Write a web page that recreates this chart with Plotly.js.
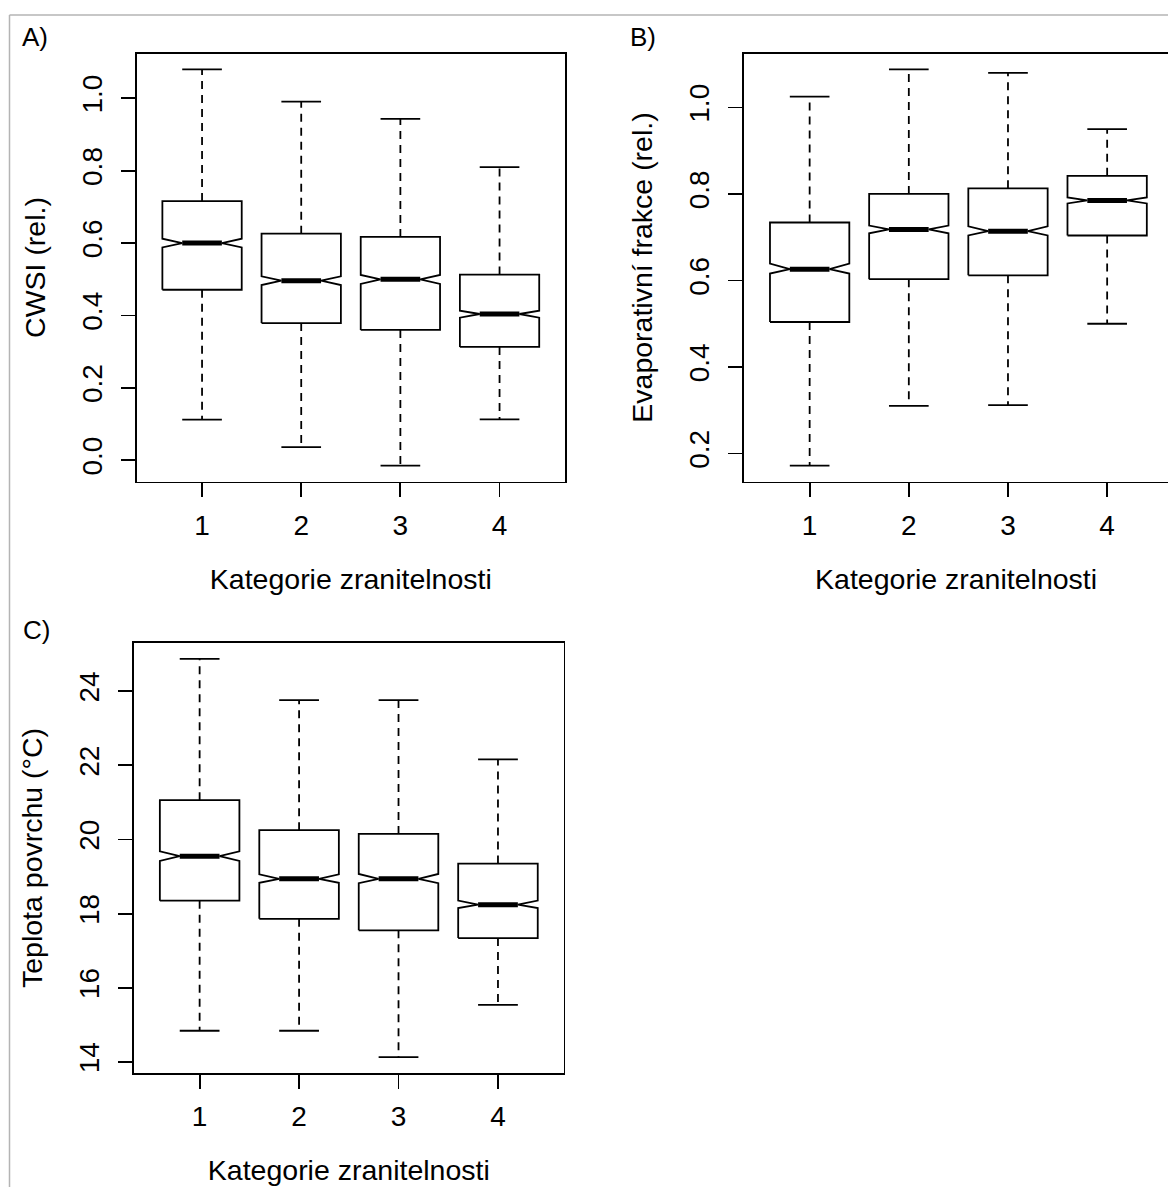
<!DOCTYPE html>
<html>
<head>
<meta charset="utf-8">
<script src="https://cdn.plot.ly/plotly-3.0.1.min.js"></script>
<style>html,body{margin:0;padding:0;background:#fff;}#chart{width:1168px;height:1187px;}</style>
</head>
<body>
<div id="chart"></div>
<script>
// ---------- data ----------
const categories = [1, 2, 3, 4];
const xTickLabels = ['1', '2', '3', '4'];
const xTitle = 'Kategorie zranitelnosti';

// A) CWSI
const cwsiLower   = [0.112, 0.036, -0.015, 0.113];
const cwsiQ1      = [0.471, 0.379, 0.360, 0.313];
const cwsiNotchLo = [0.588, 0.484, 0.487, 0.394];
const cwsiMedian  = [0.600, 0.496, 0.500, 0.404];
const cwsiNotchHi = [0.612, 0.508, 0.512, 0.413];
const cwsiQ3      = [0.716, 0.626, 0.617, 0.513];
const cwsiUpper   = [1.080, 0.991, 0.943, 0.810];

// B) Evaporativní frakce
const efLower   = [0.172, 0.310, 0.312, 0.500];
const efQ1      = [0.504, 0.603, 0.612, 0.704];
const efNotchLo = [0.616, 0.709, 0.704, 0.778];
const efMedian  = [0.626, 0.718, 0.714, 0.785];
const efNotchHi = [0.639, 0.727, 0.725, 0.792];
const efQ3      = [0.734, 0.800, 0.813, 0.842];
const efUpper   = [1.025, 1.088, 1.080, 0.950];

// C) Teplota povrchu
const tLower   = [14.84, 14.84, 14.13, 15.54];
const tQ1      = [18.35, 17.86, 17.55, 17.34];
const tNotchLo = [19.42, 18.83, 18.82, 18.15];
const tMedian  = [19.55, 18.94, 18.94, 18.24];
const tNotchHi = [19.68, 19.06, 19.07, 18.35];
const tQ3      = [21.06, 20.25, 20.15, 19.35];
const tUpper   = [24.87, 23.76, 23.76, 22.16];

// ---------- styling / layout ----------
const W = 1168, H = 1187;
const FONT = 'Liberation Sans, Arial, Helvetica, sans-serif';
const BOXW = 0.4;      // half box width (boxwex 0.8)
const NOTCHW = 0.2;    // half width at notch
const CAPW = 0.2;      // half staple width
const LW = 1.8;

function px2fx(a, b) { return [a / W, Math.min(1, b / W)]; }
function px2fy(top, bottom) { return [(H - bottom) / H, (H - top) / H]; }

function buildTraces(st, xa, ya) {
  const ox = [], oy = [], mx = [], my = [], wx = [], wy = [], cx = [], cy = [];
  categories.forEach((c, i) => {
    const L = c - BOXW, R = c + BOXW;
    ox.push(L, L, c - NOTCHW, L, L, R, R, c + NOTCHW, R, R, L, null);
    oy.push(st.q1[i], st.nlo[i], st.med[i], st.nhi[i], st.q3[i], st.q3[i], st.nhi[i], st.med[i], st.nlo[i], st.q1[i], st.q1[i], null);
    mx.push(c - NOTCHW, c + NOTCHW, null);
    my.push(st.med[i], st.med[i], null);
    wx.push(c, c, null, c, c, null);
    wy.push(st.q3[i], st.up[i], null, st.q1[i], st.lo[i], null);
    cx.push(c - CAPW, c + CAPW, null, c - CAPW, c + CAPW, null);
    cy.push(st.up[i], st.up[i], null, st.lo[i], st.lo[i], null);
  });
  const base = { type: 'scatter', mode: 'lines', xaxis: xa, yaxis: ya, hoverinfo: 'skip', showlegend: false, connectgaps: false };
  return [
    Object.assign({}, base, { x: wx, y: wy, line: { color: '#000', width: LW, dash: '8px,6px' } }),
    Object.assign({}, base, { x: cx, y: cy, line: { color: '#000', width: LW } }),
    Object.assign({}, base, { x: ox, y: oy, line: { color: '#000', width: LW } }),
    Object.assign({}, base, { x: mx, y: my, line: { color: '#000', width: 5 } })
  ];
}

function yRange(lo, up) {
  const mn = Math.min(...lo), mx = Math.max(...up);
  const e = (mx - mn) * 0.04;
  return [mn - e, mx + e];
}

const panelPxWidth = 428.4;
const xFull = [0.34, 4.66];

const statsA = { lo: cwsiLower, q1: cwsiQ1, nlo: cwsiNotchLo, med: cwsiMedian, nhi: cwsiNotchHi, q3: cwsiQ3, up: cwsiUpper };
const statsB = { lo: efLower, q1: efQ1, nlo: efNotchLo, med: efMedian, nhi: efNotchHi, q3: efQ3, up: efUpper };
const statsC = { lo: tLower, q1: tQ1, nlo: tNotchLo, med: tMedian, nhi: tNotchHi, q3: tQ3, up: tUpper };

const traces = [].concat(
  buildTraces(statsA, 'x', 'y'),
  buildTraces(statsB, 'x2', 'y2'),
  buildTraces(statsC, 'x3', 'y3')
);

const XTICKFONT = { family: FONT, size: 28, color: '#000' };
const YTICKFONT = { family: FONT, size: 28, color: '#000' };
const TITLEFONT = { family: FONT, size: 28.5, color: '#000' };

function xAxis(domain, range, anchor) {
  return {
    domain: domain, range: range, anchor: anchor,
    tickmode: 'array', tickvals: categories, ticktext: xTickLabels,
    ticks: 'outside', ticklen: 14, tickwidth: LW, tickcolor: '#000',
    showline: true, linecolor: '#000', linewidth: LW, mirror: true,
    showgrid: false, zeroline: false, fixedrange: true,
    tickfont: XTICKFONT, ticklabelstandoff: 4,
    title: { text: xTitle, font: TITLEFONT, standoff: 29 }
  };
}
function yAxis(domain, range, anchor, dtick, fmt, title, mirror) {
  return {
    domain: domain, range: range, anchor: anchor,
    tickmode: 'linear', dtick: dtick, tick0: 0, tickformat: fmt,
    ticks: 'outside', ticklen: 14, tickwidth: LW, tickcolor: '#000', tickangle: -90,
    showline: true, linecolor: '#000', linewidth: LW, mirror: mirror,
    showgrid: false, zeroline: false, fixedrange: true,
    tickfont: YTICKFONT, ticklabelstandoff: 8,
    title: { text: title, font: TITLEFONT, standoff: 23 }
  };
}

const domAx = px2fx(136.6, 565.0);
const domAy = px2fy(53.5, 481.5);
const bLeft = 744.2;
const domBx = px2fx(bLeft, W);
const xRangeB = [xFull[0], xFull[0] + (xFull[1] - xFull[0]) * (W - bLeft) / panelPxWidth];
const domCx = px2fx(134.0, 563.6);
const domCy = px2fy(643, 1073);

const LABELFONT = { family: FONT, size: 26, color: '#000' };

const layout = {
  width: W, height: H,
  margin: { l: 0, r: 0, t: 0, b: 0, pad: 0 },
  paper_bgcolor: '#fff', plot_bgcolor: '#fff',
  font: { family: FONT, color: '#000' },
  showlegend: false,
  xaxis: xAxis(domAx, xFull, 'y'),
  yaxis: yAxis(domAy, yRange(cwsiLower, cwsiUpper), 'x', 0.2, '.1f', 'CWSI (rel.)', true),
  xaxis2: xAxis(domBx, xRangeB, 'y2'),
  yaxis2: yAxis(domAy, yRange(efLower, efUpper), 'x2', 0.2, '.1f', 'Evaporativní frakce (rel.)', false),
  xaxis3: xAxis(domCx, xFull, 'y3'),
  yaxis3: yAxis(domCy, yRange(tLower, tUpper), 'x3', 2, 'd', 'Teplota povrchu (°C)', true),
  annotations: [
    { text: 'A)', xref: 'paper', yref: 'paper', x: 20 / W, y: 1 - 37 / H, xanchor: 'left', yanchor: 'middle', showarrow: false, font: LABELFONT },
    { text: 'B)', xref: 'paper', yref: 'paper', x: 628 / W, y: 1 - 37 / H, xanchor: 'left', yanchor: 'middle', showarrow: false, font: LABELFONT },
    { text: 'C)', xref: 'paper', yref: 'paper', x: 21 / W, y: 1 - 630 / H, xanchor: 'left', yanchor: 'middle', showarrow: false, font: LABELFONT }
  ],
  shapes: [
    { type: 'line', xref: 'paper', yref: 'paper', x0: 9.5 / W, x1: 1, y0: 1 - 15 / H, y1: 1 - 15 / H, line: { color: '#b4b4b4', width: 1.5 } },
    { type: 'line', xref: 'paper', yref: 'paper', x0: 9.5 / W, x1: 9.5 / W, y0: 0, y1: 1 - 15 / H, line: { color: '#b4b4b4', width: 1.5 } }
  ]
};

Plotly.newPlot('chart', traces, layout, { staticPlot: true, displayModeBar: false });
</script>
</body>
</html>
